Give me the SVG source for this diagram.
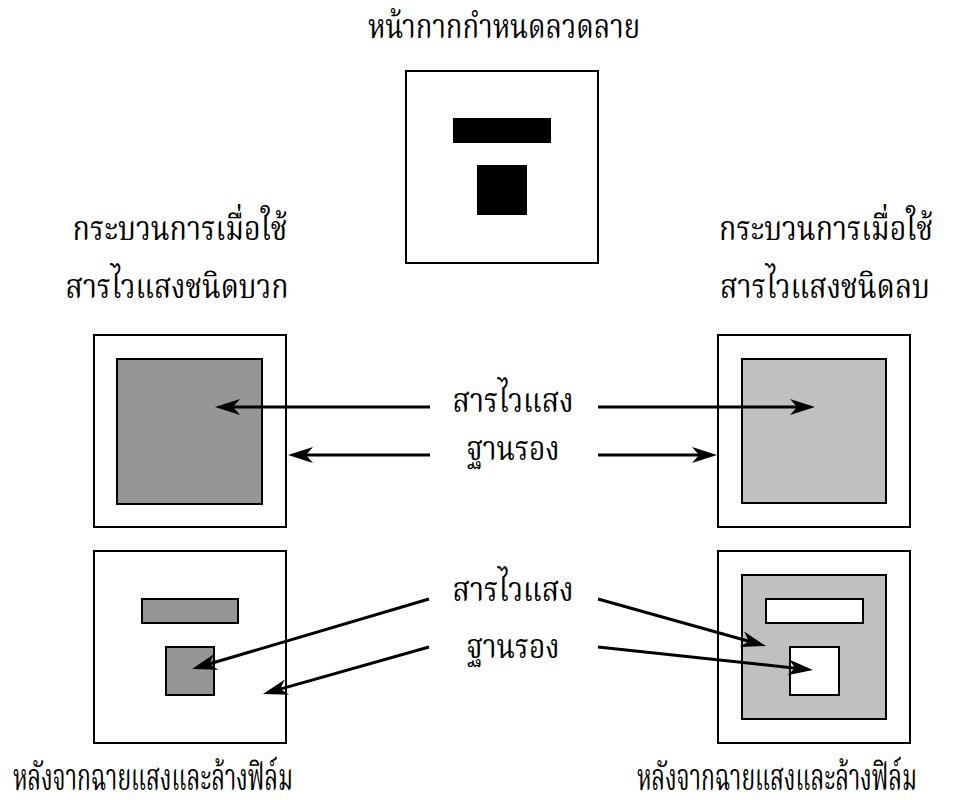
<svg xmlns="http://www.w3.org/2000/svg" width="975" height="800" viewBox="0 0 975 800">
  <style>
    .frame { fill: #ffffff; stroke: #000000; stroke-width: 2; }
    .dark { fill: #969696; stroke: #000000; stroke-width: 2; }
    .light { fill: #c0c0c0; stroke: #000000; stroke-width: 2; }
    .hole { fill: #ffffff; stroke: #000000; stroke-width: 2; }
    .solid { fill: #000000; }
    .lbl { font-family: "Liberation Serif", "Noto Serif Thai", "Noto Sans Thai", serif; font-size: 34px; fill: #000000; text-anchor: middle; }
    .cap { font-size: 38px; }
    .arrow { stroke: #000000; stroke-width: 3; fill: none; marker-end: url(#head); }
  </style>
  <defs>
    <marker id="head" markerUnits="userSpaceOnUse" markerWidth="40" markerHeight="30" viewBox="-15 -15 40 30" refX="0" refY="0" orient="auto" overflow="visible">
      <path d="M15,0 L-10,-8 L-3,0 L-10,8 Z" fill="#000000"/>
    </marker>
  </defs>

  <rect width="975" height="800" fill="#ffffff"/>

  <!-- mask -->
  <g id="mask">
    <text class="lbl" x="504" y="38" textLength="272" lengthAdjust="spacingAndGlyphs">หน้ากากกำหนดลวดลาย</text>
    <rect class="frame" x="406" y="71" width="192" height="192"/>
    <rect class="solid" x="453" y="118" width="98" height="25"/>
    <rect class="solid" x="477" y="165" width="50" height="50"/>
  </g>

  <!-- positive resist, before development -->
  <g id="positive-title">
    <text class="lbl" x="180" y="240" textLength="215" lengthAdjust="spacingAndGlyphs">กระบวนการเมื่อใช้</text>
    <text class="lbl" x="177" y="298" textLength="223" lengthAdjust="spacingAndGlyphs">สารไวแสงชนิดบวก</text>
  </g>
  <g id="positive-coated">
    <rect class="frame" x="94" y="335" width="192" height="192"/>
    <rect class="dark" x="117" y="359" width="145" height="145"/>
  </g>

  <!-- negative resist, before development -->
  <g id="negative-title">
    <text class="lbl" x="826" y="240" textLength="214" lengthAdjust="spacingAndGlyphs">กระบวนการเมื่อใช้</text>
    <text class="lbl" x="825" y="298" textLength="210" lengthAdjust="spacingAndGlyphs">สารไวแสงชนิดลบ</text>
  </g>
  <g id="negative-coated">
    <rect class="frame" x="718" y="335" width="192" height="192"/>
    <rect class="light" x="742" y="359" width="144" height="144"/>
  </g>

  <!-- centre labels -->
  <g id="labels-top">
    <text class="lbl" x="513" y="412" textLength="121" lengthAdjust="spacingAndGlyphs">สารไวแสง</text>
    <text class="lbl" x="513" y="460" textLength="93" lengthAdjust="spacingAndGlyphs">ฐานรอง</text>
  </g>
  <g id="labels-bottom">
    <text class="lbl" x="513" y="601" textLength="121" lengthAdjust="spacingAndGlyphs">สารไวแสง</text>
    <text class="lbl" x="513" y="658" textLength="93" lengthAdjust="spacingAndGlyphs">ฐานรอง</text>
  </g>

  <!-- positive resist, after development -->
  <g id="positive-developed">
    <rect class="frame" x="94" y="551" width="192" height="192"/>
    <rect class="dark" x="142" y="599" width="96" height="24"/>
    <rect class="dark" x="166" y="647" width="48" height="48"/>
    <text class="lbl cap" x="153" y="790" textLength="280" lengthAdjust="spacingAndGlyphs">หลังจากฉายแสงและล้างฟิล์ม</text>
  </g>

  <!-- negative resist, after development -->
  <g id="negative-developed">
    <rect class="frame" x="718" y="551" width="192" height="192"/>
    <rect class="light" x="742" y="575" width="144" height="144"/>
    <rect class="hole" x="766" y="599" width="97" height="24"/>
    <rect class="hole" x="790" y="647" width="49" height="48"/>
    <text class="lbl cap" x="777" y="790" textLength="280" lengthAdjust="spacingAndGlyphs">หลังจากฉายแสงและล้างฟิล์ม</text>
  </g>

  <!-- connectors -->
  <g id="connectors">
    <line class="arrow" x1="430" y1="407" x2="230" y2="407"/>
    <line class="arrow" x1="430" y1="455" x2="303" y2="455"/>
    <line class="arrow" x1="598" y1="407" x2="800" y2="407"/>
    <line class="arrow" x1="598" y1="455" x2="702" y2="455"/>
    <line class="arrow" x1="429" y1="599" x2="206.4" y2="664.8"/>
    <line class="arrow" x1="429" y1="647" x2="277.4" y2="689.9"/>
    <line class="arrow" x1="598" y1="599" x2="751.6" y2="642"/>
    <line class="arrow" x1="598" y1="647" x2="798.1" y2="668.4"/>
  </g>
</svg>
